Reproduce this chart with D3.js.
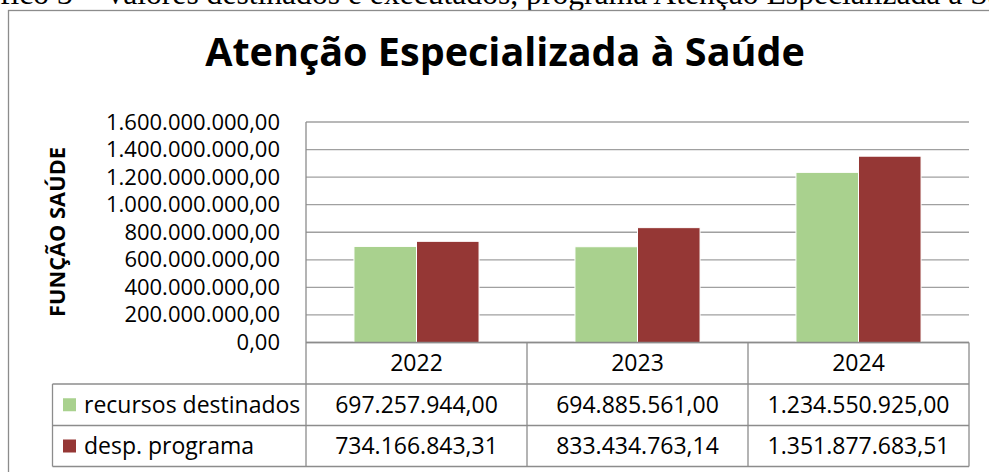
<!DOCTYPE html>
<html>
<head>
<meta charset="utf-8">
<script src="https://cdn.jsdelivr.net/npm/d3@7"></script>
<style>
  html, body { margin: 0; padding: 0; background: #fff; }
  svg { display: block; }
</style>
</head>
<body>
<div id="chart"></div>
<script>
// data
var years = ["2022", "2023", "2024"];
var seriesNames = ["recursos destinados", "desp. programa"];
var recursos = [697257944.00, 694885561.00, 1234550925.00];
var despesas = [734166843.31, 833434763.14, 1351877683.51];
var yTicks = [0, 200e6, 400e6, 600e6, 800e6, 1000e6, 1200e6, 1400e6, 1600e6];
var colors = ["#a9d18e", "#953735"];

var width = 989, height = 472;
var plot = {left: 306, right: 969, top: 122, bottom: 342.5};
var tableLeft = 52.5, rowLines = [384, 425.5, 466.5];

var br = d3.formatLocale({decimal: ",", thousands: ".", grouping: [3], currency: ["R$", ""]});
var fmt = br.format(",.2f");

var svg = d3.select("#chart")
  .append("svg")
    .attr("width", width)
    .attr("height", height);

// caption from the page, cut by the top edge
var cap = svg.append("text")
  .attr("y", 4)
  .style("font-family", "'Liberation Serif', 'Times New Roman', serif")
  .style("font-size", "28px")
  .text("Gráfico 3 – Valores destinados e executados, programa Atenção Especializada à Saúde");
var capStr = cap.text();
var i0 = capStr.indexOf("fico"), i1 = capStr.indexOf("à S") + 3;
var w = cap.node().getSubStringLength(i0, i1 - i0);
cap.style("font-size", (28 * 988 / w) + "px");
cap.attr("x", -cap.node().getSubStringLength(0, i0));

// outer chart border (runs off the right and bottom edges)
svg.append("rect")
  .attr("x", 8.5).attr("y", 10.5)
  .attr("width", 1000).attr("height", 500)
  .attr("fill", "none")
  .attr("stroke", "#8c8c8c")
  .attr("stroke-width", 1.3);

// title
var title = svg.append("text")
  .attr("x", 505).attr("y", 66)
  .attr("text-anchor", "middle")
  .style("font-family", "'Open Sans', sans-serif")
  .style("font-weight", "bold")
  .style("font-size", "30px")
  .text("Atenção Especializada à Saúde");
title.style("font-size", (30 * 600 / title.node().getComputedTextLength()) + "px");

// scales
var y = d3.scaleLinear()
  .domain([0, 1600e6])
  .range([plot.bottom, plot.top]);

var x0 = d3.scaleBand()
  .domain(years)
  .range([plot.left, plot.right]);

var x1 = d3.scaleBand()
  .domain(seriesNames)
  .range([x0.bandwidth() * 0.217, x0.bandwidth() * 0.783]);

// gridlines
svg.append("g")
  .selectAll("line")
  .data(yTicks)
  .enter()
  .append("line")
    .attr("x1", plot.left).attr("x2", plot.right)
    .attr("y1", d => y(d)).attr("y2", d => y(d))
    .attr("stroke", "#a0a0a0")
    .attr("stroke-width", 1.3);

// y axis labels
var yAxis = svg.append("g")
  .attr("transform", "translate(" + (plot.left - 26) + ",0)")
  .call(d3.axisLeft(y).tickValues(yTicks).tickFormat(fmt).tickSize(0).tickPadding(0));
yAxis.select(".domain").remove();
yAxis.selectAll("text")
  .style("font-family", "'Open Sans', sans-serif")
  .style("font-size", "22px")
  .attr("fill", "#000");

// y axis title
var yt = svg.append("text")
  .attr("transform", "translate(65,232) rotate(-90)")
  .attr("text-anchor", "middle")
  .style("font-family", "'Open Sans', sans-serif")
  .style("font-weight", "bold")
  .style("font-size", "21px")
  .text("FUNÇÃO SAÚDE");
yt.style("font-size", (21 * 170 / yt.node().getComputedTextLength()) + "px");

// bars
var values = [recursos, despesas];
svg.append("g")
  .selectAll("g")
  .data(years)
  .enter()
  .append("g")
    .attr("transform", d => "translate(" + x0(d) + ",0)")
  .selectAll("rect")
  .data((d, i) => seriesNames.map((s, j) => ({s: s, v: values[j][i], c: colors[j]})))
  .enter()
  .append("rect")
    .attr("x", d => x1(d.s))
    .attr("width", x1.bandwidth())
    .attr("y", d => y(d.v))
    .attr("height", d => y(0) - y(d.v))
    .attr("fill", d => d.c)
    .attr("stroke", "#fff")
    .attr("stroke-width", 1);

// data table
var line = "#8c8c8c";
var t = svg.append("g")
  .attr("stroke", line)
  .attr("stroke-width", 1.3);

// vertical plot axis + column separators
t.selectAll(".vsep")
  .data(years.map(d => x0(d)).concat([plot.right]))
  .enter()
  .append("line")
    .attr("x1", d => d).attr("x2", d => d)
    .attr("y1", (d, i) => i == 0 ? plot.top : plot.bottom)
    .attr("y2", rowLines[2]);
t.append("line")
  .attr("x1", tableLeft).attr("x2", tableLeft)
  .attr("y1", rowLines[0]).attr("y2", rowLines[2]);
t.append("line")
  .attr("x1", plot.left).attr("x2", plot.right)
  .attr("y1", plot.bottom).attr("y2", plot.bottom);
t.selectAll(".hsep")
  .data(rowLines)
  .enter()
  .append("line")
    .attr("x1", tableLeft).attr("x2", plot.right)
    .attr("y1", d => d).attr("y2", d => d);

var cellFont = g => g
  .style("font-family", "'Open Sans', sans-serif")
  .style("font-size", "23px")
  .attr("fill", "#000");

// year headers
svg.append("g").call(cellFont)
  .selectAll("text")
  .data(years)
  .enter()
  .append("text")
    .attr("x", d => x0(d) + x0.bandwidth() / 2)
    .attr("y", (plot.bottom + rowLines[0]) / 2)
    .attr("dy", "0.35em")
    .attr("text-anchor", "middle")
    .text(d => d);

// rows
seriesNames.forEach(function(s, j) {
  var cy = (rowLines[j] + rowLines[j + 1]) / 2;
  svg.append("rect")
    .attr("x", 63).attr("y", cy - 6.5)
    .attr("width", 13).attr("height", 13)
    .attr("fill", colors[j]);
  svg.append("text").call(cellFont)
    .attr("x", 84).attr("y", cy)
    .attr("dy", "0.35em")
    .text(s);
  svg.append("g").call(cellFont)
    .selectAll("text")
    .data(values[j])
    .enter()
    .append("text")
      .attr("x", (d, i) => x0(years[i]) + x0.bandwidth() / 2)
      .attr("y", cy)
      .attr("dy", "0.35em")
      .attr("text-anchor", "middle")
      .text(d => fmt(d));
});
</script>
</body>
</html>
